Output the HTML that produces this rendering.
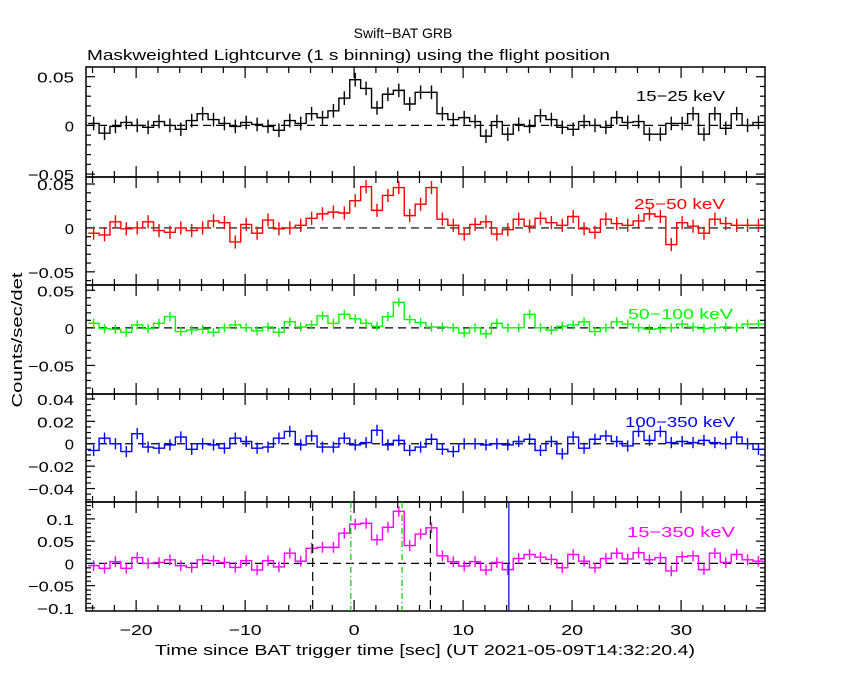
<!DOCTYPE html>
<html><head><meta charset="utf-8"><style>
body{margin:0;background:#fff;}
svg{display:block;font-family:"Liberation Sans",sans-serif;}
</style></head><body>
<svg id="c" width="850" height="680" xmlns="http://www.w3.org/2000/svg">
<text x="403" y="38" font-size="14" text-anchor="middle">Swift−BAT GRB</text>
<text x="87" y="60" font-size="15" textLength="523" lengthAdjust="spacingAndGlyphs">Maskweighted Lightcurve (1 s binning) using the flight position</text>
<text x="155" y="655" font-size="15" textLength="540" lengthAdjust="spacingAndGlyphs">Time since BAT trigger time [sec] (UT 2021-05-09T14:32:20.4)</text>
<text x="0" y="0" font-size="15" text-anchor="middle" textLength="135" lengthAdjust="spacingAndGlyphs" transform="translate(22,340) rotate(-90)">Counts/sec/det</text>
</svg>
<script>
const times = [];
for (let t = -24; t <= 37; t++) times.push(t);
const band1 = [.002,-.008,-.001,.003,0,-.002,.004,0,-.004,.005,.012,.006,.002,-.001,.003,.001,-.001,-.005,.005,.002,.012,.008,.015,.028,.047,.038,.018,.032,.036,.022,.034,.034,.012,.006,.008,.004,-.011,.004,-.009,.001,-.001,.010,.006,-.002,-.004,.004,0,-.002,.008,.003,.004,-.009,-.009,.002,.002,.012,-.009,.012,-.003,.012,0,.003];
const band2 = [-.006,-.008,.007,-.001,0,.007,-.003,-.005,0,-.003,0,.008,.006,-.016,.004,-.006,.009,-.001,0,.003,.011,.016,.018,.017,.031,.047,.020,.037,.046,.014,.027,.046,.010,.003,-.007,.004,.007,-.007,-.002,.010,.002,.011,.006,.003,.013,-.001,-.005,.010,.005,.003,.008,.016,.013,-.019,.006,.002,-.006,.010,.005,.003,.003,.003];
const band3 = [.006,-.001,-.002,-.006,.004,-.001,.006,.015,-.005,-.003,-.002,-.006,0,.004,0,-.004,.001,-.006,.008,.001,.004,.016,.006,.018,.012,.006,.002,.015,.034,.011,.007,.001,.001,0,-.007,0,-.008,.006,0,0,.018,0,-.003,.002,.004,.008,-.005,0,.008,.005,0,-.002,-.001,0,.005,.001,-.001,0,.001,0,.005,.005];
const band4 = [-.006,.005,0,-.007,.009,-.003,-.004,-.001,.006,-.005,0,-.001,-.004,.005,.002,-.004,-.003,.005,.011,-.001,.007,-.003,-.003,.005,-.001,.001,.012,-.001,.003,-.006,-.003,.004,-.005,-.007,0,0,-.001,0,-.001,.002,.004,-.006,.002,-.009,.006,-.004,.004,.007,.002,-.002,.011,.003,.011,.001,.002,.001,.003,.001,0,.006,0,-.005];
const band5 = [-.005,-.011,.004,-.011,.013,0,.002,.008,-.005,-.009,.008,.006,.002,-.009,.006,-.015,.006,-.008,.023,.005,.034,.036,.036,.068,.088,.090,.053,.081,.117,.040,.066,.080,.017,.004,-.006,.004,-.015,.002,-.014,.011,.020,.014,.009,-.010,.020,.005,-.010,.011,.023,.010,.024,.008,.013,-.017,.015,.017,-.014,.023,.002,.020,.008,.005];
const bandLabels = ["15-25 keV","25-50 keV","50-100 keV","100-350 keV","15-350 keV"];
const errs = [0.007,0.0075,0.006,0.005,0.012];
const yMins = [-0.053,-0.065,-0.088,-0.052,-0.107];
const yMaxs = [0.060,0.058,0.057,0.0444,0.138];
const majorTicks = [[0.05,0,-0.05],[0.05,0,-0.05],[0.05,0,-0.05],[0.04,0.02,0,-0.02,-0.04],[0.1,0.05,0,-0.05,-0.1]];
const minorSteps = [0.01,0.01,0.01,0.005,0.01];
const xTicks = [-20,-10,0,10,20,30];
const dashedLines = [-3.8,7.0];
const dashDotLines = [-0.3,4.4];
const solidLines = [14.2];

const NS="http://www.w3.org/2000/svg";
const svg=document.getElementById('c');
const X0=86,X1=765, TMIN=-24.6, TMAX=37.7;
const tops=[67,177,285,394,502], bots=[177,285,394,502,611];
const colors=["#000","#f00","#0f0","#00f","#f0f"];
const labelPos=[[636,101,89],[634,209,91],[628,319,105],[625,427,110],[627,537,108]];
const data=[band1,band2,band3,band4,band5];
const xs=t=>X0+(t-TMIN)/(TMAX-TMIN)*(X1-X0);
function mk(tag,attrs,parent){const e=document.createElementNS(NS,tag);for(const k in attrs)e.setAttribute(k,attrs[k]);(parent||svg).appendChild(e);return e;}

for(let p=0;p<5;p++){
  const g=mk('g',{});
  
  
  const top=tops[p],bot=bots[p];
  const ys=v=>bot-(v-yMins[p])/(yMaxs[p]-yMins[p])*(bot-top);
  const frame=mk('rect',{x:X0,y:top,width:X1-X0,height:bot-top,fill:'none',stroke:'#000','stroke-width':1.5},g);
  
  
  for(let t=-24;t<=36;t+=2){
    const x=xs(t),maj=xTicks.includes(t),L=maj?11:6;
    mk('line',{x1:x,y1:top,x2:x,y2:top+L,stroke:'#000','stroke-width':1.2},g);
    mk('line',{x1:x,y1:bot,x2:x,y2:bot-L,stroke:'#000','stroke-width':1.2},g);
  }
  const st=minorSteps[p];
  for(let v=Math.ceil(yMins[p]/st)*st;v<=yMaxs[p]+1e-9;v+=st){
    const y=ys(v);const maj=majorTicks[p].some(m=>Math.abs(m-v)<1e-6);const L=maj?9:5;
    mk('line',{x1:X0,y1:y,x2:X0+L,y2:y,stroke:'#000','stroke-width':1.2},g);
    mk('line',{x1:X1,y1:y,x2:X1-L,y2:y,stroke:'#000','stroke-width':1.2},g);
  }
  majorTicks[p].forEach(v=>{
    const s=(v===0?'0':String(v).replace('-','\u2212'));
    const tx=mk('text',{x:74,y:ys(v)+6,'font-size':15,'text-anchor':'end',textLength:s.length*9.2,lengthAdjust:'spacingAndGlyphs'},g);
    tx.textContent=s;
    
    
  });
  mk('line',{x1:X0,y1:ys(0),x2:X1,y2:ys(0),stroke:'#000','stroke-dasharray':'8,5','stroke-width':1.2},g);
  const d=data[p];let path='';
  for(let i=0;i<times.length;i++){
    const c=times[i]+0.1;const xl=Math.max(X0,xs(c-0.5)),xr=Math.min(X1,xs(c+0.5)),y=ys(d[i]);
    path+=(i===0?'M':'L')+xl+','+y+'L'+xr+','+y;
  }
  const pl=mk('path',{d:path,fill:'none',stroke:colors[p],'stroke-width':1.4},g);
  
  
  for(let i=0;i<times.length;i++){
    const x=xs(times[i]+0.1);
    const eb=mk('line',{x1:x,y1:ys(d[i]+errs[p]),x2:x,y2:ys(d[i]-errs[p]),stroke:colors[p],'stroke-width':1.4},g);
    
    
  }
  const lp=labelPos[p];
  const lb=mk('text',{x:lp[0],y:lp[1],'font-size':15,fill:colors[p],textLength:lp[2],lengthAdjust:'spacingAndGlyphs'},g);
  lb.textContent=bandLabels[p].replace('-','\u2212');
  
  
  if(p===4){
    dashedLines.forEach(t=>{const l=mk('line',{x1:xs(t),y1:top,x2:xs(t),y2:bot,stroke:'#000','stroke-dasharray':'9,5','stroke-width':1.2},g);
      
      });
    dashDotLines.forEach(t=>{const l=mk('line',{x1:xs(t),y1:top,x2:xs(t),y2:bot,stroke:'#0c0','stroke-dasharray':'6,3,1,3','stroke-width':1.2},g);
      
      });
    solidLines.forEach(t=>{const l=mk('line',{x1:xs(t),y1:top,x2:xs(t),y2:bot,stroke:'#00c','stroke-width':1.2},g);
      
      });
    xTicks.forEach(t=>{const s=String(t).replace('-','\u2212');
      const tx=mk('text',{x:xs(t),y:bot+24,'font-size':15,'text-anchor':'middle',textLength:s.length*11,lengthAdjust:'spacingAndGlyphs'},g);
      tx.textContent=s;
      
      });
  }
}
</script>
</body></html>
